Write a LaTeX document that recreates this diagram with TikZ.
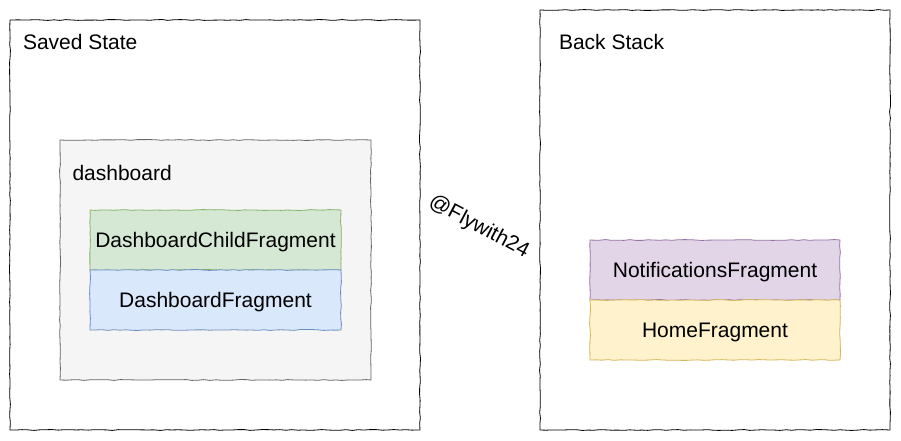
\documentclass[tikz,border=0pt]{standalone}
\usepackage{fontspec}
\setmainfont{Liberation Sans}
\usetikzlibrary{decorations.pathmorphing}
\definecolor{greyfill}{HTML}{F5F5F5}
\definecolor{greyline}{HTML}{666666}
\definecolor{greenfill}{HTML}{D5E8D4}
\definecolor{greenline}{HTML}{82B366}
\definecolor{bluefill}{HTML}{DAE8FC}
\definecolor{blueline}{HTML}{6C8EBF}
\definecolor{purplefill}{HTML}{E1D5E7}
\definecolor{purpleline}{HTML}{9673A6}
\definecolor{yellowfill}{HTML}{FFF2CC}
\definecolor{yellowline}{HTML}{D6B656}
\begin{document}
\begin{tikzpicture}[x=1pt,y=-1pt,
  sketch/.style={decorate, decoration={random steps, segment length=6pt, amplitude=0.45pt}},
  box/.style={draw, sketch, line width=0.8pt, inner sep=0pt, outer sep=0pt, rectangle,
    font=\fontsize{21}{25}\selectfont, text height=15pt, text depth=0pt},
  lbl/.style={anchor=base west, inner sep=0pt, outer sep=0pt, font=\fontsize{21}{25}\selectfont}]
\pgfmathsetseed{24}
\useasboundingbox (0,0) rectangle (901,441);
% outer containers
\node[box, draw=black, fill=white, minimum width=410pt, minimum height=410pt] (saved) at (215,225) {};
\node[box, draw=black, fill=white, minimum width=350pt, minimum height=420pt] (back) at (715,220) {};
% dashboard group
\node[box, draw=greyline, fill=greyfill, minimum width=311pt, minimum height=240pt] (dash) at (215.5,260) {};
\node[box, draw=greenline, fill=greenfill, minimum width=251pt, minimum height=60pt] (child) at (215.5,240) {DashboardChildFragment};
\node[box, draw=blueline, fill=bluefill, minimum width=251pt, minimum height=60pt] (dfrag) at (215.5,300) {DashboardFragment};
% back stack entries
\node[box, draw=purpleline, fill=purplefill, minimum width=250pt, minimum height=60pt] (notif) at (715,270) {NotificationsFragment};
\node[box, draw=yellowline, fill=yellowfill, minimum width=250pt, minimum height=60pt] (home) at (715,330) {HomeFragment};
% labels
\node[lbl] (savedlbl) at (23,50) {Saved State};
\node[lbl] (backlbl) at (559,50) {Back Stack};
\node[lbl] (dashlbl) at (72.5,180) {dashboard};
\node[inner sep=0pt, rotate=-28, font=\fontsize{21}{25}\selectfont] (mark) at (479,227) {@Flywith24};
\end{tikzpicture}
\end{document}
